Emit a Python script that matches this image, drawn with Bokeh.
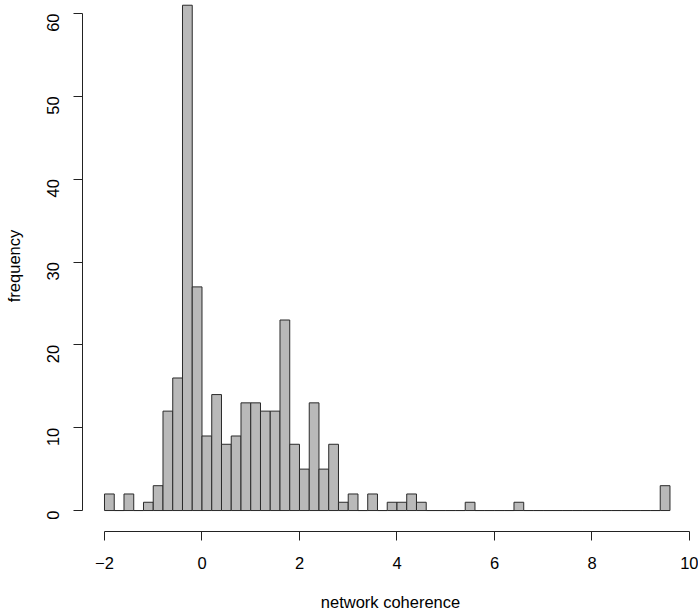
from bokeh.plotting import figure
from bokeh.models import Range1d, LinearAxis, FixedTicker, ColumnDataSource
from bokeh.embed import file_html
from bokeh.resources import INLINE
import math

# ---- data ----
bin_start = -2.0
bin_width = 0.2
counts = [2, 0, 2, 0, 1, 3, 12, 16, 61, 27,
          9, 14, 8, 9, 13, 13, 12, 12, 23, 8,
          5, 13, 5, 8, 1, 2, 0, 2, 0, 1,
          1, 2, 1, 0, 0, 0, 0, 1, 0, 0,
          0, 0, 1, 0, 0, 0, 0, 0, 0, 0,
          0, 0, 0, 0, 0, 0, 0, 3]
x_ticks = [-2, 0, 2, 4, 6, 8, 10]
y_ticks = [0, 10, 20, 30, 40, 50, 60]
x_title = "network coherence"
y_title = "frequency"

lefts = [round(bin_start + i * bin_width, 4) for i in range(len(counts))]
rights = [round(l + bin_width, 4) for l in lefts]
src = ColumnDataSource(dict(left=lefts, right=rights, top=counts, bottom=[0] * len(counts)))

FONT = "Liberation Sans"

p = figure(width=698, height=613, output_backend="svg", toolbar_location=None,
           x_axis_type=None, y_axis_type=None,
           x_range=Range1d(-2.451, 10.185), y_range=Range1d(-2.53, 61.57),
           min_border_left=82, min_border_right=0, min_border_top=0, min_border_bottom=81)
p.outline_line_color = None
p.xgrid.visible = False
p.ygrid.visible = False

p.quad(left="left", right="right", top="top", bottom="bottom", source=src,
       fill_color="#b9b9b9", line_color="#2a2a2a", line_width=1)

xaxis = LinearAxis(ticker=FixedTicker(ticks=x_ticks), bounds=(-2, 10))
xaxis.major_label_overrides = {-2: "\u22122"}
yaxis = LinearAxis(ticker=FixedTicker(ticks=y_ticks), bounds=(0, 60))

for ax in (xaxis, yaxis):
    ax.minor_tick_line_color = None
    ax.major_tick_in = 0
    ax.major_tick_out = 9
    ax.axis_line_color = "#222222"
    ax.major_tick_line_color = "#222222"
    ax.major_label_text_font = FONT
    ax.major_label_text_font_size = "16.5px"
    ax.major_label_text_color = "black"
    ax.axis_label_text_font = FONT
    ax.axis_label_text_font_size = "16.5px"
    ax.axis_label_text_font_style = "normal"
    ax.axis_label_text_color = "black"

xaxis.axis_label = x_title
xaxis.major_label_standoff = 16
xaxis.axis_label_standoff = 21
yaxis.axis_label = y_title
yaxis.major_label_orientation = math.pi / 2
yaxis.major_label_standoff = 20
yaxis.axis_label_standoff = 16

p.add_layout(xaxis, "below")
p.add_layout(yaxis, "left")

open("out.html", "w").write(file_html(p, INLINE))
